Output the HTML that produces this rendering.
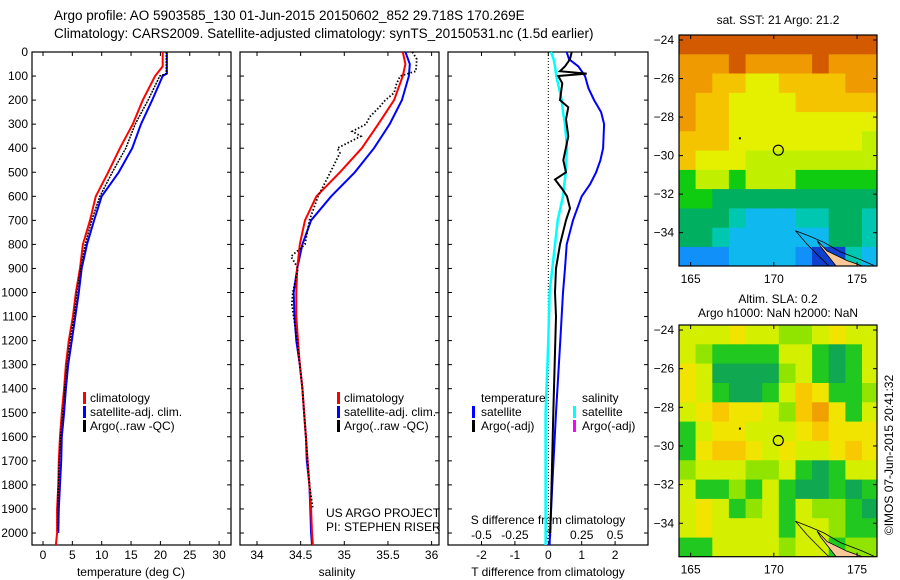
<!DOCTYPE html>
<html><head><meta charset="utf-8"><style>
html,body{margin:0;padding:0;background:#fff}
svg{display:block;font-family:"Liberation Sans",sans-serif;font-size:12px}
</style></head><body>
<svg id="c" width="900" height="580" viewBox="0 0 900 580">
<text x="54" y="20" font-size="13.5">Argo profile: AO 5903585_130 01-Jun-2015 20150602_852 29.718S 170.269E</text>
<text x="54" y="38" font-size="13.5">Climatology: CARS2009. Satellite-adjusted climatology: synTS_20150531.nc (1.5d earlier)</text>
</svg>
<script>
// ---------- data ----------
const depthT = [0,60,100,200,300,400,500,600,700,800,900,1000,1100,1200,1300,1400,1500,1600,1700,1800,1900,2000,2050];
const tempClim = [20.4,20.4,19.1,17.0,15.3,13.1,11.1,9.0,8.0,6.8,6.3,5.6,5.1,4.4,3.9,3.6,3.2,2.9,2.7,2.6,2.4,2.4,2.2];
const depthTS = [0,90,100,200,300,400,500,600,700,800,900,1000,1100,1200,1300,1400,1500,1600,1700,1800,1900,2000];
const tempSat = [21.1,21.1,20.4,18.6,16.7,15.2,12.9,10.0,8.7,7.5,6.6,6.1,5.5,4.9,4.3,3.9,3.6,3.2,3.1,2.9,2.7,2.6];
const depthTA = [0,90,100,200,300,400,500,600,700,800,900,1000,1100,1200,1300,1400,1500,1600,1700,1800,1900,1990];
const tempArgo = [21.0,21.0,19.9,17.9,15.7,14.1,11.8,9.7,8.3,7.2,6.4,5.8,5.3,4.6,4.1,3.7,3.4,3.0,2.8,2.6,2.5,2.5];
const depthS = [0,50,100,200,300,400,500,600,700,800,900,1000,1100,1200,1300,1400,1500,1600,1700,1800,1900,2000,2050];
const salClim = [35.67,35.70,35.67,35.57,35.39,35.20,34.95,34.68,34.55,34.49,34.46,34.45,34.45,34.47,34.49,34.52,34.54,34.56,34.58,34.60,34.62,34.63,34.64];
const salSat = [35.70,35.75,35.74,35.66,35.52,35.34,35.12,34.85,34.62,34.52,34.46,34.42,34.43,34.45,34.49,34.52,34.54,34.56,34.57,34.60,34.61,34.62,34.63];
const depthSA = [0,30,80,100,130,170,200,230,270,300,330,350,400,420,500,600,700,800,850,900,1000,1050,1100,1200,1400,1600,1800,1900];
const salArgo = [35.78,35.83,35.82,35.64,35.60,35.57,35.47,35.40,35.29,35.25,35.09,35.19,34.92,34.95,34.84,34.70,34.60,34.55,34.39,34.47,34.41,34.40,34.42,34.46,34.52,34.56,34.60,34.64];
const depthD = [0,30,60,100,150,200,250,300,400,450,500,550,600,700,800,900,1000,1200,1500,1800,2000,2050];
const dTSat = [0.55,0.62,0.9,1.1,1.2,1.37,1.58,1.67,1.64,1.56,1.43,1.25,1.0,0.74,0.55,0.5,0.44,0.36,0.23,0.12,0.05,0.04];
const dSSat = [0.02,0.04,0.05,0.06,0.08,0.1,0.11,0.125,0.14,0.135,0.13,0.12,0.11,0.07,0.05,0.03,0.01,0.0,-0.02,-0.02,-0.02,-0.02];
const depthDA = [0,30,60,80,90,100,130,200,230,280,350,450,500,530,570,600,650,700,800,900,1000,1100,1500,1900,2000];
const dTArgo = [0.7,0.65,0.5,0.35,1.15,0.3,0.42,0.35,0.6,0.53,0.6,0.45,0.53,0.2,0.42,0.56,0.65,0.53,0.35,0.23,0.2,0.23,0.15,0.08,0.06];
const depthTicks = [0,100,200,300,400,500,600,700,800,900,1000,1100,1200,1300,1400,1500,1600,1700,1800,1900,2000];
const tempTicks = [0,5,10,15,20,25,30];
const salTicks = [34,34.5,35,35.5,36];
const dTTicks = [-2,-1,0,1,2];
const dSTicks = [-0.5,-0.25,0,0.25,0.5];
const lonTicks = [165,170,175];
const latTicks = [-24,-26,-28,-30,-32,-34];
// SST map grid (rows lat -24..-35, cols lon 164.8..175.8), color class index
const sstGrid = [
[0,0,0,0,0,0,0,0,0,0,0,0],
[1,1,1,0,1,1,1,1,0,1,1,1],
[1,1,2,2,3,3,2,2,2,2,1,1],
[1,2,2,3,3,3,3,2,2,2,2,2],
[1,2,2,3,3,3,3,3,3,3,3,3],
[2,2,2,3,3,3,3,3,3,3,3,4],
[2,3,3,3,4,4,4,4,4,4,4,4],
[5,4,4,5,4,4,4,5,5,5,5,5],
[5,5,6,6,6,6,6,6,6,6,6,6],
[6,6,6,7,8,8,8,7,7,6,6,7],
[6,6,7,8,8,8,8,8,8,6,6,7],
[9,9,9,8,8,8,8,9,10,10,7,8]];
const sstColors = ['#d45a00','#ee9a00','#f5c400','#e4f000','#c0f000','#10cc10','#00b060','#00c8b0','#10b8f0','#1090f8','#1040d0'];
const slaGrid = [
[3,3,3,4,3,3,2,2,3,4,3,3],
[3,2,1,1,1,1,3,3,1,0,1,3],
[4,3,0,0,0,0,2,3,1,0,1,3],
[4,3,1,0,0,1,3,5,4,1,1,2],
[3,4,5,4,4,3,2,5,6,4,1,3],
[1,3,4,4,3,3,3,4,5,4,4,4],
[1,4,5,5,4,3,4,3,3,4,5,4],
[2,3,3,3,2,2,3,1,0,1,3,3],
[3,1,1,2,1,3,1,0,0,1,0,1],
[3,4,3,1,2,3,1,3,2,2,1,0],
[3,4,3,3,3,3,1,3,3,2,1,1],
[1,1,3,3,3,3,2,3,3,1,2,2]];
const slaColors = ['#10a850','#20c820','#90e400','#d4f000','#f0e400','#f8c800','#f0a000'];
const argoLon = 170.269, argoLat = -29.718;

// ---------- helpers ----------
const NS='http://www.w3.org/2000/svg';
const svg=document.getElementById('c');
function mk(tag,attrs,parent){const e=document.createElementNS(NS,tag);for(const k in attrs)e.setAttribute(k,attrs[k]);(parent||svg).appendChild(e);return e;}
function txt(x,y,s,anchor,parent){const e=mk('text',{x:x,y:y,'text-anchor':anchor||'start'},parent);e.textContent=s;return e;}
const y0=52,yB=545;
const yD=d=>y0+d*0.2405;
const xT=t=>43+5.87*t;
const xS=s=>257+87.3*(s-34);
const xDT=v=>548.3+33.4*v;
const xDS=v=>548.3+133.6*v;
function line(xs,ys,fx,color,w,name,dash){
  const pts=xs.map((v,i)=>fx(v).toFixed(1)+','+yD(ys[i]).toFixed(1)).join(' ');
  const p=mk('polyline',{points:pts,fill:'none',stroke:color,'stroke-width':w});
  if(dash)p.setAttribute('stroke-dasharray',dash);
  
  
}
function frame(x1,x2,name){
  const r=mk('rect',{x:x1,y:y0,width:x2-x1,height:yB-y0,fill:'none',stroke:'#000','stroke-width':1.2});
  
  
  depthTicks.forEach(d=>{mk('line',{x1:x1,x2:x1+4,y1:yD(d),y2:yD(d),stroke:'#000'});mk('line',{x1:x2-4,x2:x2,y1:yD(d),y2:yD(d),stroke:'#000'});});
}
// ---------- panel 1 ----------
frame(32,231,'temperature-panel');
depthTicks.forEach(d=>{const t=txt(28,yD(d)+4,String(d),'end');});
tempTicks.forEach(v=>{mk('line',{x1:xT(v),x2:xT(v),y1:y0,y2:y0+4,stroke:'#000'});mk('line',{x1:xT(v),x2:xT(v),y1:yB-4,y2:yB,stroke:'#000'});const t=txt(xT(v),559,String(v),'middle');});
{const t=txt(131,576,'temperature (deg C)','middle');}
line(tempSat,depthTS,xT,'#0000ff',2,'temp-satellite-line');
line(tempClim,depthT,xT,'#ff0000',2,'temp-climatology-line');
line(tempArgo,depthTA,xT,'#000',1.5,'temp-argo-line','2 1');
function legend(x,y,items,name){
  const g=mk('g',{});
  
  
  items.forEach((it,i)=>{mk('rect',{x:x,y:y+i*14-10,width:3,height:12,fill:it[1]},g);txt(x+7,y+i*14,it[0],'start',g);});
}
legend(83,402,[['climatology','#ff0000'],['satellite-adj. clim.','#0000ff'],['Argo(..raw -QC)','#000']],'temp-legend');
// ---------- panel 2 ----------
frame(240,439,'salinity-panel');
salTicks.forEach(v=>{mk('line',{x1:xS(v),x2:xS(v),y1:y0,y2:y0+4,stroke:'#000'});mk('line',{x1:xS(v),x2:xS(v),y1:yB-4,y2:yB,stroke:'#000'});const t=txt(xS(v),559,String(v),'middle');});
{const t=txt(337,576,'salinity','middle');}
line(salSat,depthS,xS,'#0000ff',2,'sal-satellite-line');
line(salClim,depthS,xS,'#ff0000',2,'sal-climatology-line');
line(salArgo,depthSA,xS,'#000',1.8,'sal-argo-line','1.5 2');
legend(337,402,[['climatology','#ff0000'],['satellite-adj. clim.','#0000ff'],['Argo(..raw -QC)','#000']],'sal-legend');
{const t=txt(326,517,'US ARGO PROJECT');
 const t2=txt(326,531,'PI: STEPHEN RISER');}
// ---------- panel 3 ----------
frame(448,648,'difference-panel');
dTTicks.forEach(v=>{mk('line',{x1:xDT(v),x2:xDT(v),y1:y0,y2:y0+4,stroke:'#000'});mk('line',{x1:xDT(v),x2:xDT(v),y1:yB-4,y2:yB,stroke:'#000'});const t=txt(xDT(v),559,String(v),'middle');});
dSTicks.forEach(v=>{const t=txt(xDS(v),539,String(v),'middle');});
{const t=txt(548,576,'T difference from climatology','middle');
 const t2=txt(548,524,'S difference from climatology','middle');}
mk('line',{x1:xDT(0),x2:xDT(0),y1:y0,y2:yB,stroke:'#000','stroke-dasharray':'1 2'});
line(dSSat,depthD,xDS,'#00ffff',2.5,'dS-satellite-line');
line(dTSat,depthD,xDT,'#0000ff',2,'dT-satellite-line');
line(dTArgo,depthDA,xDT,'#000',2,'dT-argo-line');
{const g=mk('g',{});
 txt(481,402,'temperature','start',g);txt(582,402,'salinity','start',g);
 [['satellite','#0000ff','#00ffff'],['Argo(-adj)','#000','#ff00ff']].forEach((it,i)=>{const y=416+i*14;
  mk('rect',{x:472,y:y-10,width:3,height:12,fill:it[1]},g);txt(481,y,it[0],'start',g);
  mk('rect',{x:573,y:y-10,width:3,height:12,fill:it[2]},g);txt(582,y,it[0],'start',g);});}
// ---------- maps ----------
const mx1=679,mx2=877,lonL=164.3,lonR=176.2,latT=-23.74,latB=-35.73;
function drawMap(top,bottom,grid,colors,name){
  const xL=l=>mx1+(l-lonL)*(mx2-mx1)/(lonR-lonL);
  const yL=l=>top+(latT-l)*(bottom-top)/(latT-latB);
  const g=mk('g',{});
  
  
  const cp=mk('clipPath',{id:name+'-clip'});mk('rect',{x:mx1,y:top,width:mx2-mx1,height:bottom-top},cp);
  const gi=mk('g',{'clip-path':'url(#'+name+'-clip)'},g);
  grid.forEach((row,r)=>row.forEach((v,c)=>{
    const cell=mk('rect',{x:xL(lonL+c).toFixed(1),y:yL(latT-r).toFixed(1),width:(xL(1)-xL(0)+0.6).toFixed(1),height:(yL(-1)-yL(0)+0.6).toFixed(1),fill:colors[v]},gi);
    
    
  }));
  // New Zealand coast
  const land=[[172.6,-34.4],[173.2,-34.95],[174.4,-35.45],[175.4,-35.75],[173.9,-35.9],[172.8,-34.7]];
  const lp=mk('polygon',{points:land.map(p=>xL(p[0]).toFixed(1)+','+yL(p[1]).toFixed(1)).join(' '),fill:'#f8c898',stroke:'#000','stroke-width':0.8},gi);
  
  const coast=[[171.3,-33.9],[172.2,-34.2],[173,-34.5],[174,-35],[175.2,-35.4],[176,-35.7]];
  mk('polyline',{points:coast.map(p=>xL(p[0]).toFixed(1)+','+yL(p[1]).toFixed(1)).join(' '),fill:'none',stroke:'#000','stroke-width':0.8},gi);
  const coast2=[[171.3,-33.9],[172,-34.6],[172.8,-35.3],[173.4,-35.8]];
  mk('polyline',{points:coast2.map(p=>xL(p[0]).toFixed(1)+','+yL(p[1]).toFixed(1)).join(' '),fill:'none',stroke:'#000','stroke-width':0.8},gi);
  mk('rect',{x:mx1,y:top,width:mx2-mx1,height:bottom-top,fill:'none',stroke:'#000','stroke-width':1.2},g);
  const m=mk('circle',{cx:xL(argoLon),cy:yL(argoLat),r:5,fill:'none',stroke:'#000','stroke-width':1.2},g);
  
  mk('rect',{x:xL(167.9),y:yL(-29.05),width:2,height:2,fill:'#000'},g);
  lonTicks.forEach(v=>{mk('line',{x1:xL(v),x2:xL(v),y1:top,y2:top+4,stroke:'#000'},g);mk('line',{x1:xL(v),x2:xL(v),y1:bottom-4,y2:bottom,stroke:'#000'},g);const t=txt(xL(v),bottom+17,String(v),'middle',g);});
  latTicks.forEach(v=>{mk('line',{x1:mx1,x2:mx1+4,y1:yL(v),y2:yL(v),stroke:'#000'},g);mk('line',{x1:mx2-4,x2:mx2,y1:yL(v),y2:yL(v),stroke:'#000'},g);const t=txt(mx1-5,yL(v)+4,String(v).replace('-','\u2212'),'end',g);});
}
drawMap(35,266,sstGrid,sstColors,'sst-map');
drawMap(325,556.7,slaGrid,slaColors,'sla-map');
{const t=txt(778,24,'sat. SST: 21 Argo: 21.2','middle');
 const t2=txt(778,303,'Altim. SLA: 0.2','middle');
 const t3=txt(778,317,'Argo h1000: NaN h2000: NaN','middle');
 const t4=txt(0,0,'\u00a9IMOS 07-Jun-2015 20:41:32','middle');t4.setAttribute('transform','translate(893,455) rotate(-90)');}
</script>
</body></html>
